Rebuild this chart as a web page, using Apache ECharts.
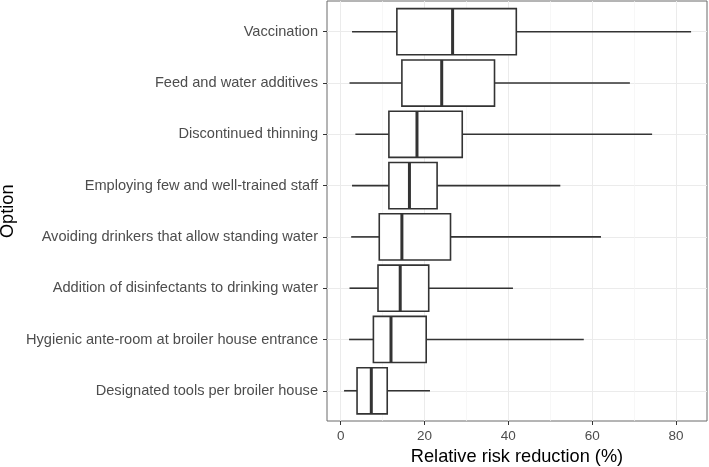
<!DOCTYPE html>
<html><head><meta charset="utf-8">
<script src="https://cdn.jsdelivr.net/npm/echarts@6/dist/echarts.min.js"></script>
<style>html,body{margin:0;padding:0;background:#fff}#c{width:709px;height:467px}</style>
</head><body><div id="c"></div>
<script>
const categories = [
  'Vaccination',
  'Feed and water additives',
  'Discontinued thinning',
  'Employing few and well-trained staff',
  'Avoiding drinkers that allow standing water',
  'Addition of disinfectants to drinking water',
  'Hygienic ante-room at broiler house entrance',
  'Designated tools per broiler house'
];
const whiskerLow  = [2.7, 2.1, 3.5, 2.7, 2.5, 2.1, 2.0, 0.8];
const q1          = [13.4, 14.6, 11.5, 11.5, 9.2, 8.9, 7.8, 3.9];
const median      = [26.7, 24.1, 18.2, 16.4, 14.6, 14.2, 12.0, 7.3];
const q3          = [41.9, 36.7, 29.0, 23.0, 26.2, 21.0, 20.4, 11.1];
const whiskerHigh = [83.6, 69.0, 74.3, 52.4, 62.1, 41.1, 58.0, 21.3];
const xTicks = [0, 20, 40, 60, 80];
const xMinorTicks = [10, 30, 50, 70];

const boxData = categories.map((c, i) => [i, whiskerLow[i], q1[i], median[i], q3[i], whiskerHigh[i]]);

const xMin = -3.27, xMax = 87.4;
const ink = '#333333';
const font = 'Liberation Sans, Arial, Helvetica, sans-serif';

const chart = echarts.init(document.getElementById('c'));
chart.setOption({
  animation: false,
  backgroundColor: '#fff',
  textStyle: { fontFamily: font },
  grid: [
    { left: 327, right: 2, top: 1, bottom: 46, show: true, borderColor: '#6b6b6b', borderWidth: 1, backgroundColor: 'transparent', containLabel: false, outerBoundsMode: 'none' },
    { left: 327, right: 2, top: 6.1, bottom: 50.6, containLabel: false, outerBoundsMode: 'none' }
  ],
  xAxis: [
    {
      gridIndex: 0, type: 'value', min: xMin, max: xMax, position: 'bottom',
      axisLine: { show: false, onZero: false },
      axisTick: { show: true, customValues: xTicks, length: 4, lineStyle: { color: ink, width: 1 } },
      axisLabel: { customValues: xTicks, color: '#4d4d4d', fontSize: 13.5, margin: 8, fontFamily: font },
      splitLine: { show: true, customValues: xTicks, lineStyle: { color: '#ebebeb', width: 1 } },
      name: 'Relative risk reduction (%)', nameLocation: 'middle', nameGap: 27, nameMoveOverlap: false,
      nameTextStyle: { fontSize: 18.2, color: '#000', fontFamily: font }
    },
    { gridIndex: 1, type: 'value', min: xMin, max: xMax, show: false, axisLine: { onZero: false } },
    {
      gridIndex: 0, type: 'value', min: xMin, max: xMax, position: 'top',
      axisLine: { show: false, onZero: false },
      axisTick: { show: false, customValues: xMinorTicks },
      axisLabel: { show: false, customValues: xMinorTicks },
      splitLine: { show: true, customValues: xMinorTicks, lineStyle: { color: '#f3f3f3', width: 0.7 } }
    }
  ],
  yAxis: [
    { gridIndex: 0, type: 'value', min: 0, max: 1, show: false, axisLine: { onZero: false } },
    {
      gridIndex: 1, type: 'category', data: categories, inverse: true, position: 'left',
      axisLine: { show: false, onZero: false },
      axisTick: { show: true, alignWithLabel: true, length: 4, lineStyle: { color: ink, width: 1 } },
      axisLabel: { color: '#4d4d4d', fontSize: 14.6, margin: 9, fontFamily: font },
      splitLine: { show: true, alignWithLabel: true, lineStyle: { color: '#ebebeb', width: 1 } },
      name: 'Option', nameLocation: 'middle', nameGap: 310, nameMoveOverlap: false,
      nameTextStyle: { fontSize: 18.2, color: '#000', fontFamily: font }
    }
  ],
  series: [{
    type: 'custom',
    coordinateSystem: 'cartesian2d',
    xAxisIndex: 1, yAxisIndex: 1,
    encode: { x: [1, 2, 3, 4, 5], y: 0 },
    data: boxData,
    renderItem: function (params, api) {
      const i = api.value(0);
      const lo = api.coord([api.value(1), i]);
      const a = api.coord([api.value(2), i]);
      const m = api.coord([api.value(3), i]);
      const b = api.coord([api.value(4), i]);
      const hi = api.coord([api.value(5), i]);
      const h = api.size([0, 1])[1] * 0.9;
      const st = { stroke: ink, lineWidth: 1.6, fill: null };
      return {
        type: 'group',
        children: [
          { type: 'line', shape: { x1: lo[0], y1: lo[1], x2: a[0], y2: a[1] }, style: st },
          { type: 'line', shape: { x1: b[0], y1: b[1], x2: hi[0], y2: hi[1] }, style: st },
          { type: 'rect', shape: { x: a[0], y: a[1] - h / 2, width: b[0] - a[0], height: h }, style: { fill: '#fff', stroke: ink, lineWidth: 1.6 } },
          { type: 'line', shape: { x1: m[0], y1: m[1] - h / 2, x2: m[0], y2: m[1] + h / 2 }, style: { stroke: ink, lineWidth: 3 } }
        ]
      };
    }
  }]
});
</script>
</body></html>
